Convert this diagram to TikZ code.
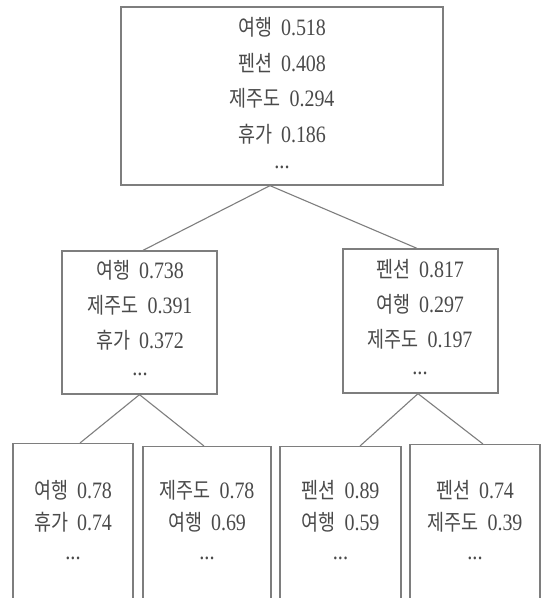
\documentclass[tikz,border=0pt]{standalone}
\usepackage{fontspec}
\setmainfont[FakeStretch=0.85]{Liberation Serif}
\newfontfamily\Kfont[FakeStretch=0.84]{Noto Sans CJK KR}
\newcommand\K[1]{{\Kfont\fontsize{22}{22}\selectfont #1}\hspace{9pt}}
\usetikzlibrary{calc}
\definecolor{linegray}{HTML}{7E7E7E}
\definecolor{textgray}{HTML}{4A4A4A}
\tikzset{
  box/.style={draw=linegray, line width=1.3pt, rectangle, inner sep=0pt},
  conn/.style={draw=linegray, line width=1.1pt},
  txt/.style={anchor=base, inner sep=0pt, text=textgray, font=\fontsize{23.5}{26}\selectfont},
  dotsnode/.style={anchor=center, inner sep=0pt, text=textgray, font=\fontsize{24}{26}\selectfont},
}
\newcommand\boxlines[5]{%
  \foreach \t [count=\i] in {#5} {\node[txt] (#1-\i) at (#2, {#3+(\i-1)*#4}) {\t};}}
\begin{document}
\begin{tikzpicture}[x=1pt, y=-1pt]
\clip (0,0) rectangle (541,598);
\fill[white] (0,0) rectangle (541,598);
% boxes
\node[box, minimum width=322pt, minimum height=178pt] (top) at (282,96) {};
\node[box, minimum width=155pt, minimum height=143pt] (ml) at (139.5,322.5) {};
\node[box, minimum width=155pt, minimum height=144pt] (mr) at (420.5,321) {};
\node[box, anchor=north, minimum width=120pt, minimum height=220pt] (b1) at (73,443) {};
\node[box, anchor=north, minimum width=128pt, minimum height=220pt] (b2) at (207,446) {};
\node[box, anchor=north, minimum width=121pt, minimum height=220pt] (b3) at (340.5,446) {};
\node[box, anchor=north, minimum width=130pt, minimum height=220pt] (b4) at (475,444) {};
% connectors
\draw[conn] ($(top.south)+(-12,0)$) -- ($(ml.north)+(3.5,0)$);
\draw[conn] ($(top.south)+(-12,0)$) -- ($(mr.north)+(-3.5,0)$);
\draw[conn] (ml.south) -- ($(b1.north)+(7,0)$);
\draw[conn] (ml.south) -- ($(b2.north)+(-3,0)$);
\draw[conn] ($(mr.south)+(-2.5,0)$) -- ($(b3.north)+(19.5,0)$);
\draw[conn] ($(mr.south)+(-2.5,0)$) -- ($(b4.north)+(8,0)$);
% texts
\boxlines{tt}{282}{35.5}{35.7}{\K{여행}0.518, \K{펜션}0.408, \K{제주도}0.294, \K{휴가}0.186}
\node[dotsnode] (td) at (282,167) {...};
\boxlines{lt}{140}{278.5}{35}{\K{여행}0.738, \K{제주도}0.391, \K{휴가}0.372}
\node[dotsnode] (ld) at (140,374) {...};
\boxlines{rt}{420}{277.5}{35}{\K{펜션}0.817, \K{여행}0.297, \K{제주도}0.197}
\node[dotsnode] (rd) at (420,373) {...};
\boxlines{c1}{73}{498.5}{32}{\K{여행}0.78, \K{휴가}0.74}
\node[dotsnode] (d1) at (73,558) {...};
\boxlines{c2}{207}{498.5}{32}{\K{제주도}0.78, \K{여행}0.69}
\node[dotsnode] (d2) at (207,558) {...};
\boxlines{c3}{340.5}{498.5}{32}{\K{펜션}0.89, \K{여행}0.59}
\node[dotsnode] (d3) at (340.5,558) {...};
\boxlines{c4}{475}{498.5}{32}{\K{펜션}0.74, \K{제주도}0.39}
\node[dotsnode] (d4) at (475,558) {...};
\end{tikzpicture}
\end{document}
